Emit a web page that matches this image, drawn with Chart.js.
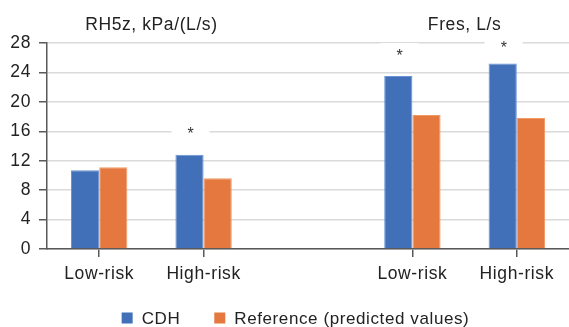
<!DOCTYPE html>
<html>
<head>
<meta charset="utf-8">
<title>CDH vs reference</title>
<script src="https://cdn.jsdelivr.net/npm/chart.js@4.4.1/dist/chart.umd.min.js"></script>
<style>
  html, body { margin: 0; padding: 0; background: #fff; }
</style>
</head>
<body>
<canvas id="chart" width="569" height="327"></canvas>
<script>
// ------------------------------------------------------------------
//  Data
// ------------------------------------------------------------------
const categories      = ['Low-risk', 'High-risk', '', 'Low-risk', 'High-risk'];
const cdhValues       = [10.7, 12.8, null, 23.5, 25.2];
const referenceValues = [11.1, 9.6, null, 18.2, 17.8];
// where the significance asterisks sit (value on the y axis), null = none
const starValues      = [null, 15.9, null, 26.5, 27.6];
const seriesNames     = ['CDH', 'Reference (predicted values)'];
const panelTitles     = ['RH5z, kPa/(L/s)', 'Fres, L/s'];
const panelCategories = [[0, 1], [3, 4]];   // category indexes under each title
const yMax = 28;
const yStep = 4;

const FONT = '"Liberation Sans", Arial, sans-serif';
const SPACING = '0.6px';
const TEXT = '#222';
const AXIS = '#595959';
const BLUE = '#4170b8';
const ORANGE = '#e4783f';

// ------------------------------------------------------------------
//  Extra drawing: asterisks, panel titles, legend
// ------------------------------------------------------------------
const extras = {
    id: 'extras',
    beforeLayout(chart) { chart.ctx.letterSpacing = SPACING; },
    beforeDraw(chart) { chart.ctx.letterSpacing = SPACING; },

    beforeDatasetsDraw(chart) {
        // white patch behind each asterisk, hides the grid line there
        const { ctx, scales: { y } } = chart;
        const bars = chart.getDatasetMeta(0).data;
        ctx.save();
        ctx.fillStyle = '#fff';
        starValues.forEach((v, i) => {
            if (v == null) return;
            ctx.fillRect(bars[i].x - 18, y.getPixelForValue(v) - 11, 38, 22);
        });
        ctx.restore();
    },

    afterDatasetsDraw(chart) {
        const { ctx, scales: { x, y } } = chart;
        const bars = chart.getDatasetMeta(0).data;
        ctx.save();

        // asterisks
        ctx.fillStyle = '#333';
        ctx.font = '16px ' + FONT;
        ctx.textAlign = 'center';
        ctx.textBaseline = 'middle';
        starValues.forEach((v, i) => {
            if (v == null) return;
            ctx.fillText('*', bars[i].x + 1.5, y.getPixelForValue(v) + 3);
        });

        // panel titles
        ctx.fillStyle = TEXT;
        ctx.font = '17.5px ' + FONT;
        ctx.textBaseline = 'alphabetic';
        panelTitles.forEach((t, i) => {
            const [a, b] = panelCategories[i];
            const cx = (x.getPixelForValue(a) + x.getPixelForValue(b)) / 2;
            ctx.fillText(t, cx, 29.5);
        });

        // legend
        ctx.font = '17px ' + FONT;
        const colors = chart.data.datasets.map(d => d.backgroundColor);
        const box = 11, gap = 9, between = 34;
        const widths = seriesNames.map(n => ctx.measureText(n).width);
        const total = widths.reduce((s, w) => s + box + gap + w, 0) + between;
        let lx = chart.width / 2 + 11 - total / 2;
        const base = chart.height - 3;
        ctx.textAlign = 'left';
        seriesNames.forEach((n, i) => {
            ctx.fillStyle = colors[i];
            ctx.fillRect(lx, base - 11.5, box, box);
            ctx.fillStyle = TEXT;
            ctx.fillText(n, lx + box + gap, base);
            lx += box + gap + widths[i] + between;
        });

        ctx.restore();
    }
};

// ------------------------------------------------------------------
//  Chart
// ------------------------------------------------------------------
const tickFont = { family: FONT, size: 17.5 };

new Chart(document.getElementById('chart'), {
    type: 'bar',
    data: {
        labels: categories,
        datasets: [{
            label: seriesNames[0],
            data: cdhValues,
            backgroundColor: BLUE,
            borderColor: '#6a92d2',
            borderWidth: 1
        }, {
            label: seriesNames[1],
            data: referenceValues,
            backgroundColor: ORANGE,
            borderColor: '#f09a68',
            borderWidth: 1
        }]
    },
    options: {
        responsive: false,
        devicePixelRatio: 1,
        animation: false,
        layout: { padding: { top: 43, right: 0, bottom: 0, left: 0 } },
        datasets: { bar: { categoryPercentage: 0.54, barPercentage: 1 } },
        plugins: {
            legend: { display: false },
            tooltip: { enabled: false }
        },
        scales: {
            x: {
                offset: true,
                grid: {
                    drawOnChartArea: false,
                    offset: false,
                    tickLength: 8,
                    lineWidth: 1.5,
                    tickColor: c => categories[c.index] ? AXIS : 'rgba(0,0,0,0)'
                },
                border: { color: AXIS, width: 1.5 },
                ticks: { color: TEXT, font: tickFont, padding: 7, maxRotation: 0, autoSkip: false },
                afterFit(s) { s.height = 78; }
            },
            y: {
                min: 0,
                max: yMax,
                ticks: { stepSize: yStep, color: TEXT, font: tickFont, padding: 8 },
                grid: { color: '#dadada', lineWidth: 1.5, tickLength: 8, tickColor: AXIS },
                border: { color: AXIS, width: 1.5 },
                afterFit(s) { s.width = 47; }
            }
        }
    },
    plugins: [extras]
});
</script>
</body>
</html>
